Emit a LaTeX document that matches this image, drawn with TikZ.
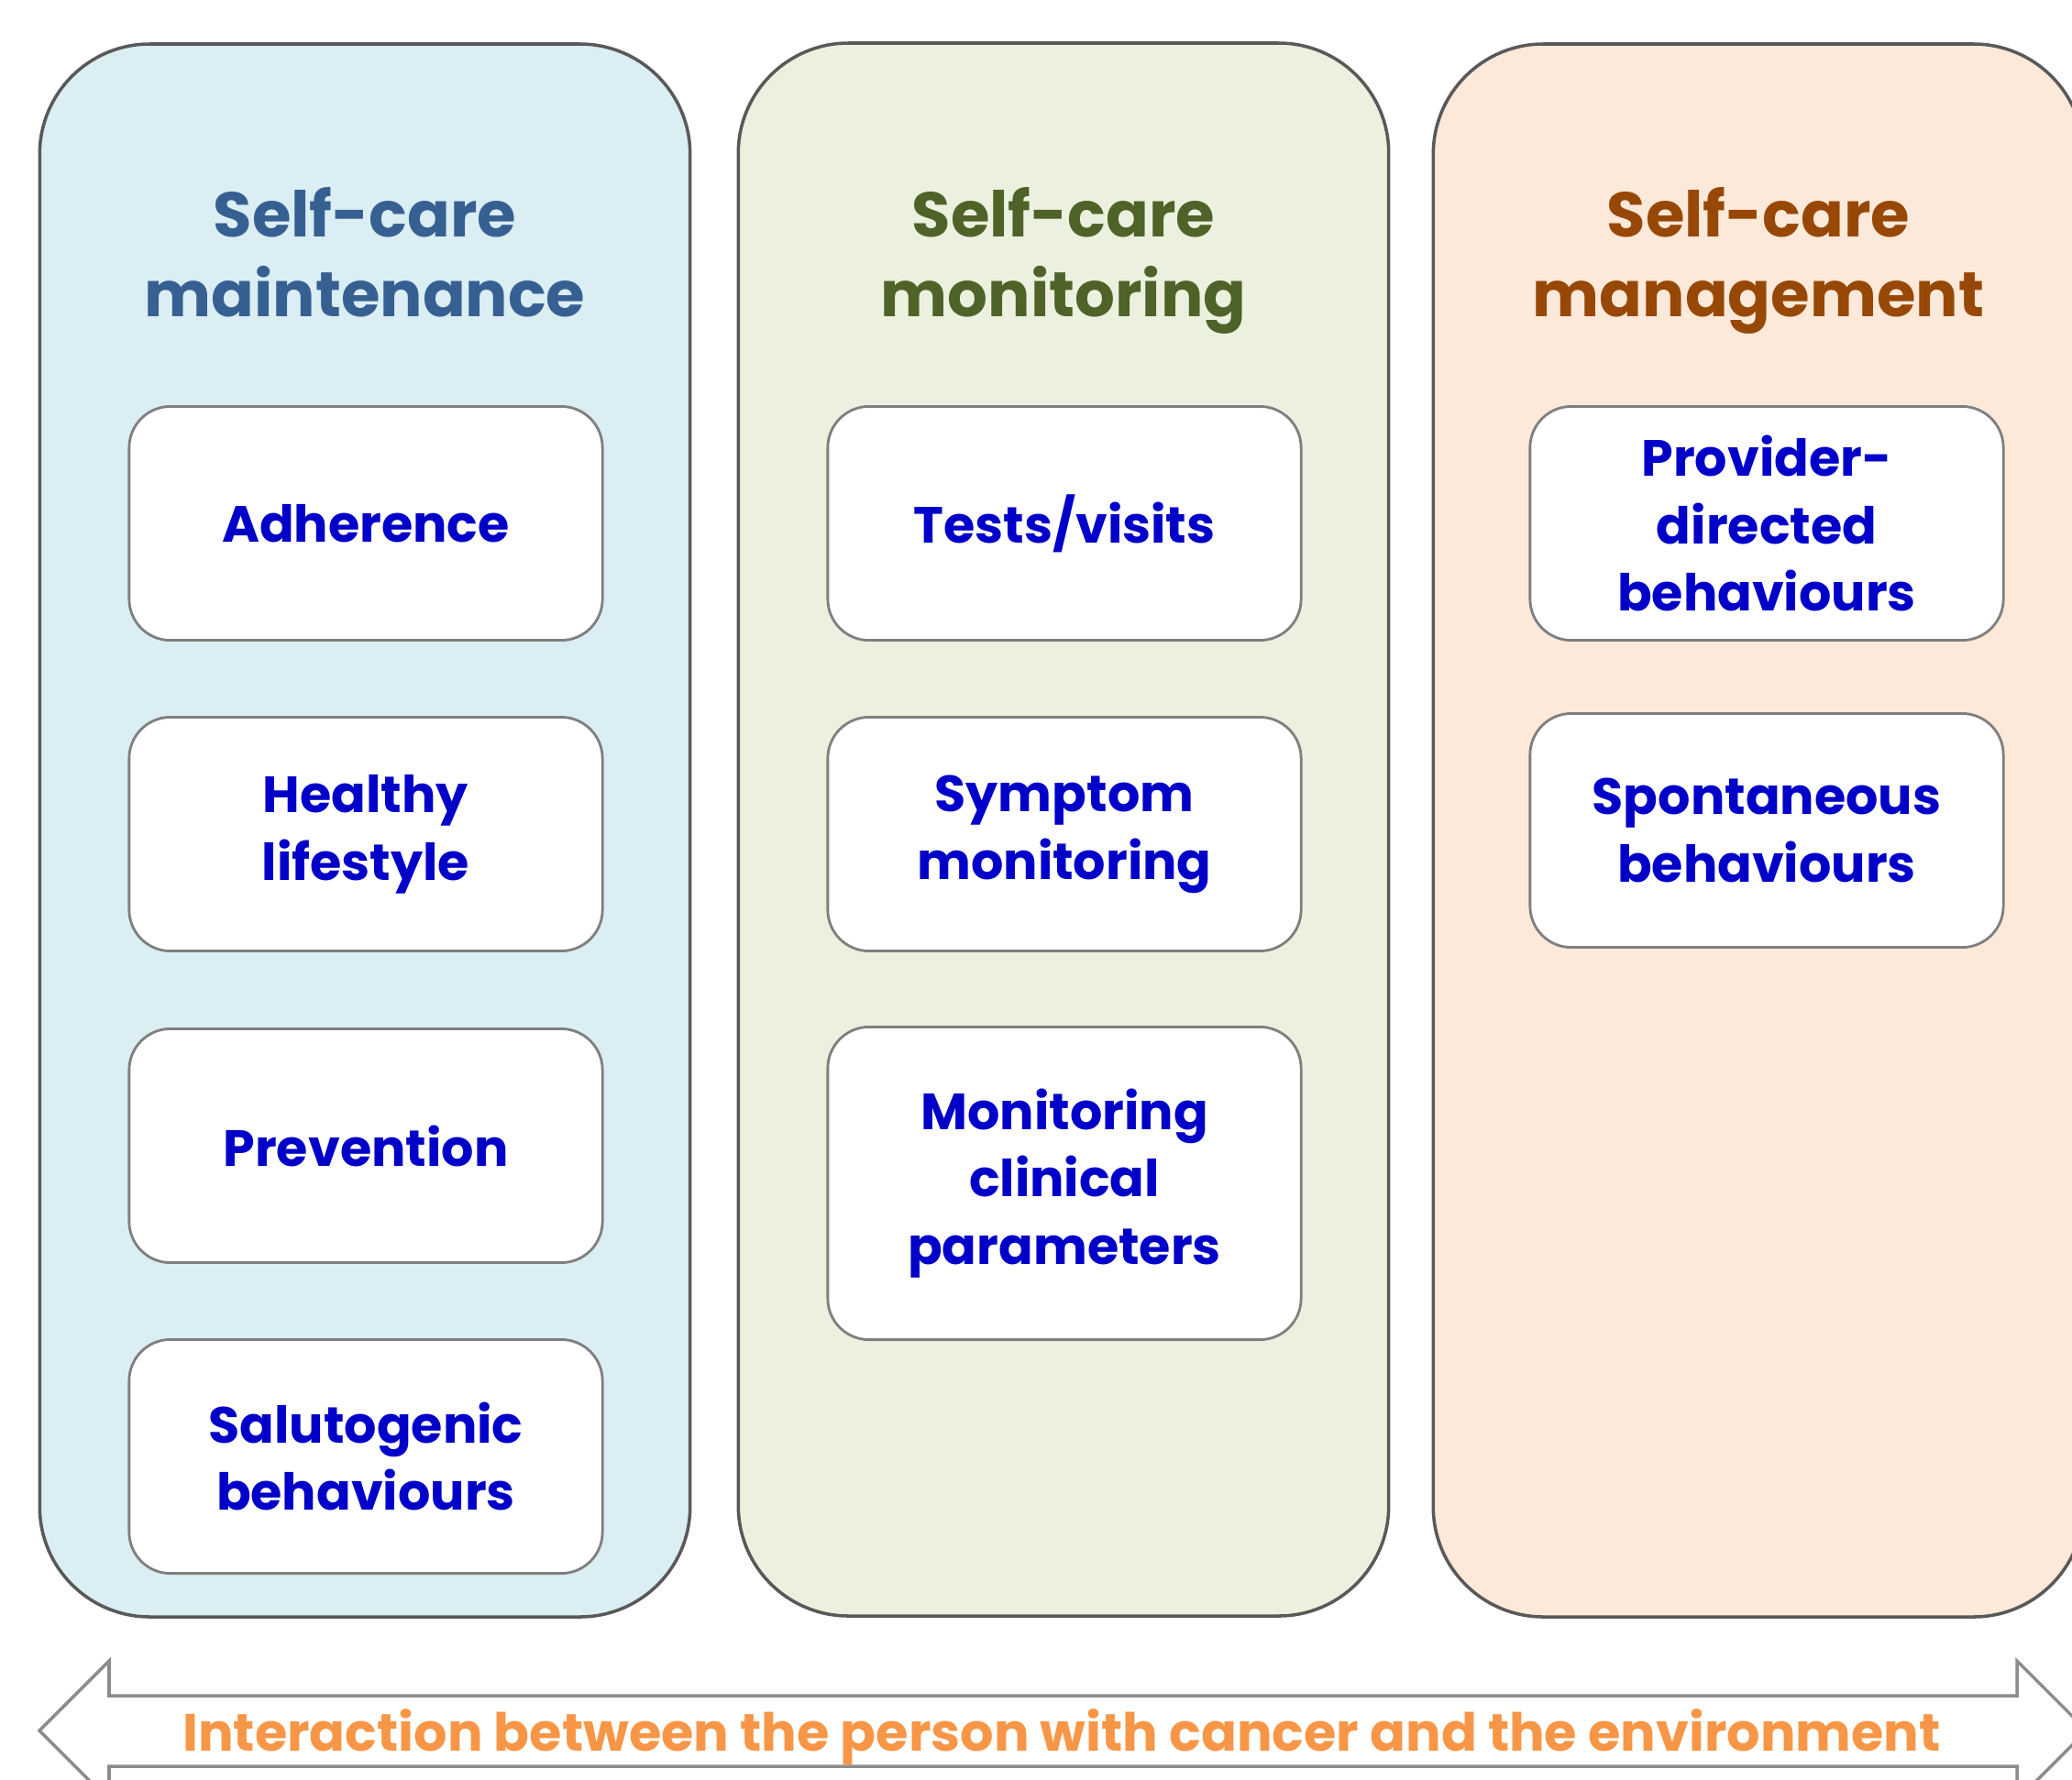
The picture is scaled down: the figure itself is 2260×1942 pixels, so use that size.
\documentclass[tikz,border=0pt]{standalone}
\usepackage{fontspec}
\setmainfont{Poppins}
\definecolor{SCLine}{HTML}{595959}
\definecolor{SCBoxLine}{HTML}{7F7F7F}
\definecolor{SCArrow}{HTML}{8C8C8C}
\definecolor{SCBlueBg}{HTML}{DAEEF3}
\definecolor{SCGreenBg}{HTML}{EBF1DE}
\definecolor{SCOrangeBg}{HTML}{FDE9D9}
\definecolor{SCBlue}{HTML}{366092}
\definecolor{SCGreen}{HTML}{4F6228}
\definecolor{SCBrown}{HTML}{974806}
\definecolor{SCItem}{HTML}{0000C8}
\definecolor{SCOrange}{HTML}{F79646}
\tikzset{
  column/.style={draw=SCLine,line width=1pt,rounded corners=12mm,
                 minimum width=7.09cm,minimum height=17.15cm},
  columnblue/.style={column,fill=SCBlueBg},
  columngreen/.style={column,fill=SCGreenBg},
  columnorange/.style={column,fill=SCOrangeBg},
  heading/.style={font=\fontsize{19.6}{24.6}\selectfont\bfseries,align=center,
                  inner sep=0pt,anchor=north},
  item/.style={draw=SCBoxLine,line width=0.8pt,fill=white,rounded corners=4.5mm,
               minimum width=5.16cm,minimum height=2.55cm,text=SCItem,
               font=\fontsize{15.8}{21}\selectfont\bfseries,align=center},
  tallitem/.style={item,minimum height=3.41cm},
  banner/.style={draw=SCArrow,line width=1pt,fill=white,line join=miter},
  bannertext/.style={text=SCOrange,font=\fontsize{16.3}{20}\selectfont\bfseries},
}

\begin{document}
\begin{tikzpicture}[x=0.01cm,y=-0.01cm]
  \clip (0,0) rectangle (2260,1942);
  \fill[white] (0,0) rectangle (2260,1942);

  % the three columns
  \node[columnblue] (maint) at (398,906) {};
  \node[columngreen] (monit) at (1160,905) {};
  \node[columnorange] (manag) at (1918,906) {};

  \node[heading,text=SCBlue] (maintHead) at (398,204) {Self-care\\maintenance};
  \node[heading,text=SCGreen] (monitHead) at (1160,204) {Self-care\\monitoring};
  \node[heading,text=SCBrown] (managHead) at (1918,204) {Self-care\\management};

  % maintenance
  \node[item] (adher) at (399,571) {Adherence};
  \node[item] (life) at (399,910) {Healthy\\lifestyle};
  \node[item] (prev) at (399,1250) {Prevention};
  \node[item] (saluto) at (399,1589) {Salutogenic\\behaviours};

  % monitoring
  \node[item] (tests) at (1161,571) {Tests/visits};
  \node[item] (sympt) at (1161,910) {Symptom\\monitoring};
  \node[tallitem] (params) at (1161,1291) {Monitoring\\clinical\\parameters};

  % management
  \node[item] (provid) at (1927,571) {Provider-\\directed\\behaviours};
  \node[item] (spont) at (1927,906) {Spontaneous\\behaviours};

  % two-headed arrow along the bottom
  \draw[banner] (119,1850) -- (2200,1850) -- (2200,1812) -- (2276,1888)
    -- (2200,1964) -- (2200,1927) -- (119,1927) -- (119,1964)
    -- (43,1888) -- (119,1812) -- cycle;
  \node[bannertext,anchor=base] (envText) at (1158,1910)
    {Interaction between the person with cancer and the environment};
\end{tikzpicture}
\end{document}
